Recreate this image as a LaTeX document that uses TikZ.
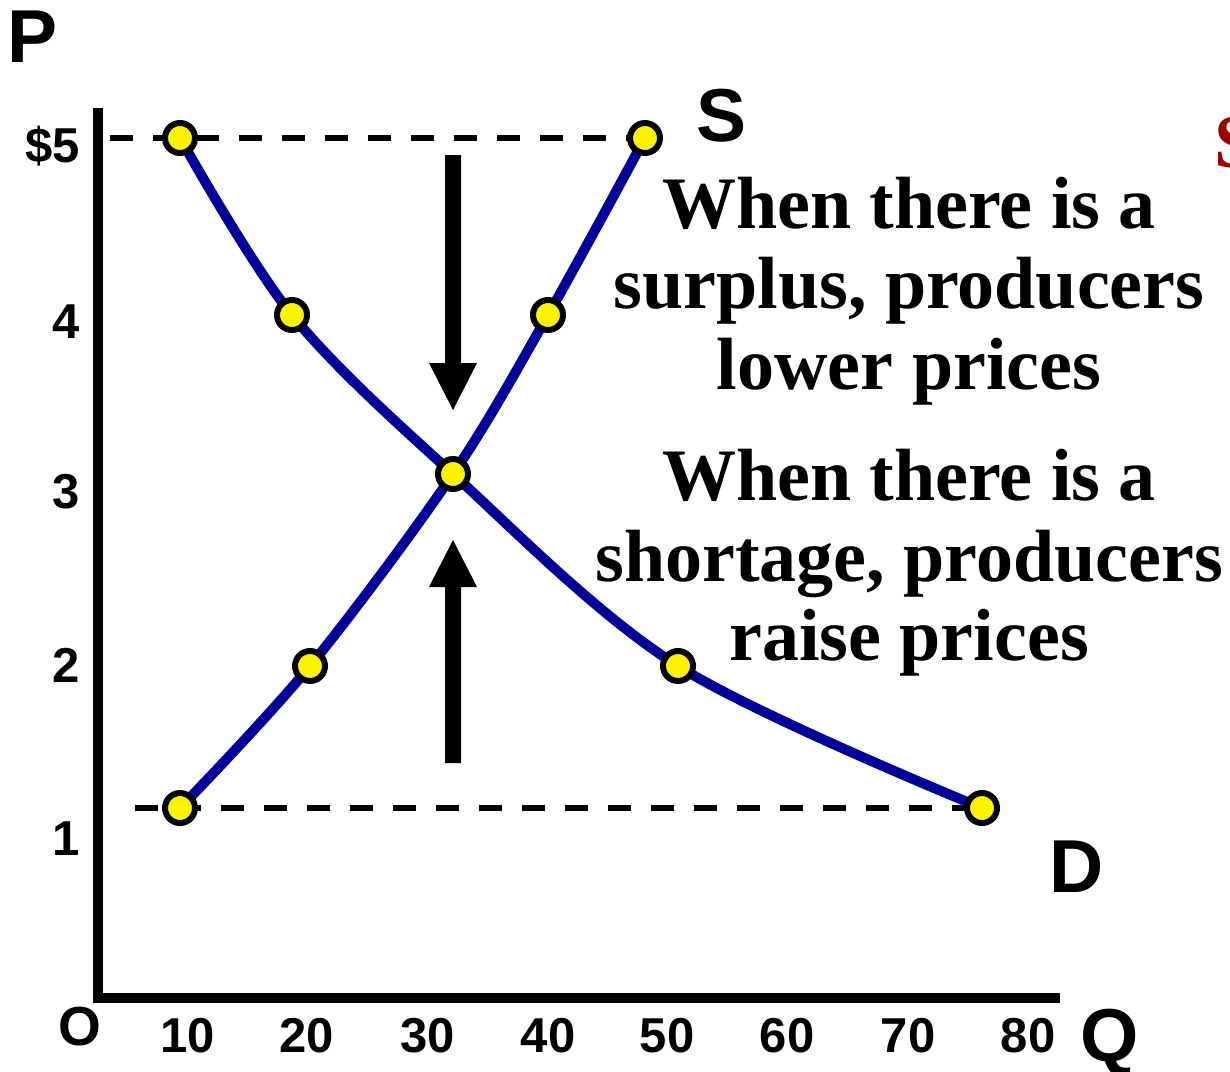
\documentclass[tikz,border=0pt]{standalone}
\usepackage{fontspec}
\setmainfont{Liberation Serif}
\newfontfamily\arialf{Liberation Sans}
\definecolor{curveblue}{RGB}{0,0,153}
\definecolor{darkred}{RGB}{153,0,0}
\begin{document}
\begin{tikzpicture}[x=1pt,y=-1pt,
  axislbl/.style={font=\arialf\bfseries\fontsize{75}{75}\selectfont, inner sep=0pt, anchor=base},
  olbl/.style={font=\arialf\bfseries\fontsize{55}{55}\selectfont, inner sep=0pt, anchor=base},
  ticklbl/.style={font=\arialf\bfseries\fontsize{49}{49}\selectfont, inner sep=0pt, anchor=base},
  ytick/.style={ticklbl, anchor=base east},
  msg/.style={font=\bfseries\fontsize{74}{80}\selectfont, inner sep=0pt, anchor=base},
  dot/.style={circle, draw=black, fill=yellow, line width=6pt, minimum size=30pt, inner sep=0pt},
  curve/.style={draw=curveblue, line width=10pt, line join=round},
  dashline/.style={draw=black, line width=5.5pt, dash pattern=on 23pt off 20pt},
  axisline/.style={draw=black, line width=10pt, line join=miter},
  bigarrow/.style={fill=black}
]
\useasboundingbox (0,0) rectangle (1230,1071);

% axes
\coordinate (ytop) at (98,108);
\coordinate (orig) at (98,998);
\coordinate (xend) at (1060,998);
\draw[axisline] (ytop) -- (orig) -- (xend);

% point coordinates
\coordinate (s1) at (180,808);
\coordinate (s2) at (310,666);
\coordinate (eq) at (453,474);
\coordinate (s4) at (548,315);
\coordinate (s5) at (645,138);
\coordinate (d1) at (180,138);
\coordinate (d2) at (292,315);
\coordinate (d4) at (678,666);
\coordinate (d5) at (982,808);
\coordinate (dtop) at (110,138);
\coordinate (dbot) at (135,808);

% dashed price lines
\draw[dashline] (dtop) -- (s5);
\draw[dashline] (dbot) -- (d5);

% curves
\draw[curve] plot[smooth, tension=0.55] coordinates {(s1) (s2) (eq) (s4) (s5)};
\draw[curve] plot[smooth, tension=0.55] coordinates {(d1) (d2) (eq) (d4) (d5)};

% dots
\foreach \p in {s1,s2,s4,s5,d1,d2,d4,d5,eq}
  \node[dot] (n\p) at (\p) {};

% arrows
\fill[bigarrow] (445,155) -- (461,155) -- (461,363) -- (477,363) -- (453,410) -- (429,363) -- (445,363) -- cycle;
\fill[bigarrow] (445,763) -- (461,763) -- (461,587) -- (477,587) -- (453,540) -- (429,587) -- (445,587) -- cycle;

% axis labels
\node[axislbl] (P) at (33,62) {P};
\node[axislbl] (S) at (722,141) {S};
\node[axislbl] (D) at (1077,892) {D};
\node[axislbl] (Q) at (1110,1061) {Q};
\node[olbl] (O) at (80,1045) {O};

% y tick labels
\node[ytick] (y5) at (80,162) {\$5};
\node[ytick] (y4) at (80,338) {4};
\node[ytick] (y3) at (80,508) {3};
\node[ytick] (y2) at (80,682) {2};
\node[ytick] (y1) at (80,855) {1};

% x tick labels
\node[ticklbl] (x10) at (188,1052) {10};
\node[ticklbl] (x20) at (307,1052) {20};
\node[ticklbl] (x30) at (428,1052) {30};
\node[ticklbl] (x40) at (548,1052) {40};
\node[ticklbl] (x50) at (667,1052) {50};
\node[ticklbl] (x60) at (787,1052) {60};
\node[ticklbl] (x70) at (908,1052) {70};
\node[ticklbl] (x80) at (1028,1052) {80};

% messages
\node[msg] (m1a) at (909,228) {When there is a};
\node[msg] (m1b) at (909,308) {surplus, producers};
\node[msg] (m1c) at (909,389) {lower prices};
\node[msg] (m2a) at (909,500) {When there is a};
\node[msg] (m2b) at (909,581) {shortage, producers};
\node[msg] (m2c) at (909,660) {raise prices};

% cut-off red letter
\node[font=\bfseries\fontsize{76}{76}\selectfont, text=darkred, inner sep=0pt, anchor=base west] (red) at (1214,167) {S};
\end{tikzpicture}
\end{document}
